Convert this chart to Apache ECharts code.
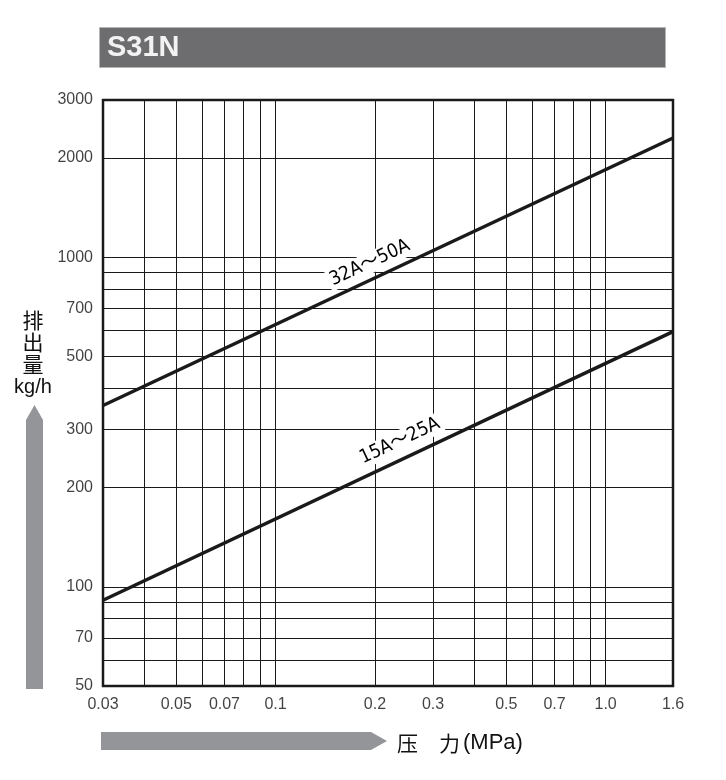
<!DOCTYPE html>
<html><head><meta charset="utf-8">
<script src="https://cdn.jsdelivr.net/npm/echarts@6/dist/echarts.min.js"></script>
<style>html,body{margin:0;padding:0;background:#fff}#c{width:726px;height:780px}</style>
</head><body><div id="c"></div>
<script>
// ---- data ----
const pressure = [0.03, 1.6];                 // MPa
const flowLarge = [355, 2300];                // 32A～50A kg/h
const flowSmall = [91, 595];                  // 15A～25A kg/h
const seriesNames = ['32A～50A', '15A～25A'];
const labelPosLarge = [0.193, 961];
const labelPosSmall = [0.238, 277];
const xRange = [0.03, 1.6];
const yRange = [50, 3000];
const xGrid = [0.04, 0.05, 0.06, 0.07, 0.08, 0.09, 0.1, 0.2, 0.3, 0.4, 0.5, 0.6, 0.7, 0.8, 0.9, 1.0];
const yGrid = [60, 70, 80, 90, 100, 200, 300, 400, 500, 600, 700, 800, 900, 1000, 2000];
const xTicks = ['0.03', '0.05', '0.07', '0.1', '0.2', '0.3', '0.5', '0.7', '1.0', '1.6'];
const yTicks = ['50', '70', '100', '200', '300', '500', '700', '1000', '2000', '3000'];
const titleText = 'S31N';
const yTitle = '排\n出\n量';
const yUnit = 'kg/h';
const xTitle = '压　力';
const xUnit = '(MPa)';

// ---- chart ----
const chart = echarts.init(document.getElementById('c'), null, {renderer: 'canvas'});
const tickFont = {fontFamily: "'Liberation Sans', Arial, sans-serif", fontSize: 16, color: '#111'};
const curveLabel = {
  show: true, position: 'inside', rotate: 25,
  backgroundColor: '#fff', padding: [1, 3],
  fontFamily: "'Liberation Sans Narrow', 'DejaVu Sans Condensed', 'Roboto Condensed', 'Noto Sans CJK JP', sans-serif",
  fontSize: 19, color: '#000'
};
function curve(name, ys, pos) {
  return {
    type: 'line', name: name, silent: true, z: 3,
    data: pressure.map((p, i) => [p, ys[i]]),
    symbol: 'none', lineStyle: {color: '#1a1a1a', width: 3.5},
    markPoint: {
      z: 10, silent: true, symbol: 'circle', symbolSize: 1,
      itemStyle: {color: 'rgba(0,0,0,0)'},
      label: Object.assign({formatter: name}, curveLabel),
      data: [{coord: pos, value: name}]
    }
  };
}
const option = {
  animation: false,
  grid: {left: 103, right: 53, top: 100, bottom: 94, show: true, borderColor: '#1a1a1a', borderWidth: 2.5, backgroundColor: 'transparent'},
  xAxis: {type: 'log', logBase: 10, min: xRange[0], max: xRange[1],
    axisLine: {show: false}, axisTick: {show: false}, axisLabel: {show: false}, splitLine: {show: false}, minorSplitLine: {show: false}},
  yAxis: {type: 'log', logBase: 10, min: yRange[0], max: yRange[1],
    axisLine: {show: false}, axisTick: {show: false}, axisLabel: {show: false}, splitLine: {show: false}, minorSplitLine: {show: false}},
  series: [
    {
      type: 'line', data: [], silent: true, z: 1,
      markLine: {
        z: 1, silent: true, symbol: ['none', 'none'], animation: false,
        label: {show: false},
        lineStyle: {color: '#1a1a1a', width: 1, type: 'solid'},
        emphasis: {disabled: true},
        data: xGrid.map(v => ({xAxis: v})).concat(yGrid.map(v => ({yAxis: v})))
      }
    },
    curve(seriesNames[0], flowLarge, labelPosLarge),
    curve(seriesNames[1], flowSmall, labelPosSmall),
    {
      type: 'scatter', silent: true, clip: false, symbolSize: 0,
      data: xTicks.map(t => [parseFloat(t), yRange[0]]),
      label: Object.assign({show: true, position: 'bottom', distance: 11,
        formatter: p => xTicks[p.dataIndex]}, tickFont)
    },
    {
      type: 'scatter', silent: true, clip: false, symbolSize: 0,
      data: yTicks.map(t => [xRange[0], parseFloat(t)]),
      label: Object.assign({show: true, position: 'left', distance: 10,
        formatter: p => yTicks[p.dataIndex]}, tickFont)
    }
  ],
  graphic: [
    {type: 'rect', shape: {x: 99.5, y: 27.5, width: 566, height: 40}, style: {fill: '#6d6d6f', stroke: '#b5b5b5', lineWidth: 1}},
    {type: 'text', x: 107, y: 48, style: {text: titleText, fill: '#f2f2f2', font: "bold 29px 'Liberation Sans', Arial, sans-serif", textVerticalAlign: 'middle'}},
    {type: 'text', x: 33, y: 309, style: {text: yTitle, fill: '#111', font: "21px 'Noto Sans CJK SC', sans-serif", lineHeight: 22, textAlign: 'center', textVerticalAlign: 'top'}},
    {type: 'text', x: 33, y: 387, style: {text: yUnit, fill: '#111', font: "20px 'Liberation Sans', Arial, sans-serif", textAlign: 'center', textVerticalAlign: 'middle'}},
    {type: 'polygon', shape: {points: [[26, 689], [26, 420], [34.5, 405], [43, 420], [43, 689]]}, style: {fill: '#939598'}},
    {type: 'polygon', shape: {points: [[101, 732], [371, 732], [387, 741], [371, 750], [101, 750]]}, style: {fill: '#939598'}},
    {type: 'text', x: 397, y: 743, style: {text: xTitle, fill: '#111', font: "21px 'Noto Sans CJK SC', sans-serif", textVerticalAlign: 'middle'}},
    {type: 'text', x: 463, y: 743, style: {text: xUnit, fill: '#111', font: "22px 'Liberation Sans', Arial, sans-serif", textVerticalAlign: 'middle'}}
  ]
};
chart.setOption(option);
</script>
</body></html>
